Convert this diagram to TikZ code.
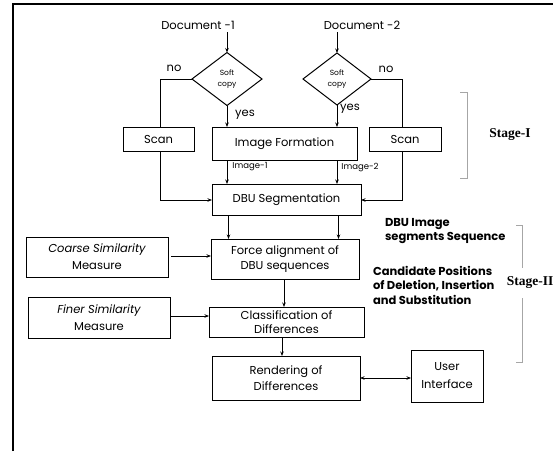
\documentclass[tikz,border=0pt]{standalone}
\usepackage{fontspec}
\setmainfont{Poppins}
\newfontfamily\stagefont{Liberation Serif}
\usetikzlibrary{shapes.geometric,arrows.meta}
\begin{document}
\begin{tikzpicture}[x=1pt,y=-1pt,
  every node/.style={inner sep=0pt, outer sep=0pt, font=\fontsize{11.5}{15}\selectfont},
  box/.style={draw, line width=1pt, align=center},
  dia/.style={draw, diamond, line width=1pt, align=center, font=\fontsize{7.5}{11}\selectfont},
  con/.style={line width=1pt},
  arr/.style={con, -{Stealth[length=4.5pt,width=3.5pt]}},
  darr/.style={con, {Stealth[length=4.5pt,width=3.5pt]}-{Stealth[length=4.5pt,width=3.5pt]}},
  lab/.style={font=\fontsize{11.5}{13}\selectfont},
  smalllab/.style={font=\fontsize{8.5}{9}\selectfont},
  boldlab/.style={font=\fontsize{11.5}{14.5}\selectfont\bfseries, align=left, anchor=north west},
  stage/.style={font=\fontsize{13.5}{15}\selectfont\stagefont\bfseries},
  brk/.style={draw=gray!70, line width=0.5pt}
]
\useasboundingbox (0,0) rectangle (553,451);
% border
\draw[line width=1.2pt] (13,451) -- (13,4) -- (553,4);

% nodes
\node (doc1) at (198,25) {Document -1};
\node (doc2) at (362,25) {Document -2};
\node[dia, minimum width=70pt, minimum height=53pt] (d1) at (227,79) {Soft\\copy};
\node[dia, minimum width=68pt, minimum height=52pt] (d2) at (337,79) {Soft\\copy};
\node[box, minimum width=71pt, minimum height=24pt] (scan1) at (158.5,139) {Scan};
\node[box, minimum width=145pt, minimum height=33pt] (img) at (284.5,143.5) {Image Formation};
\node[box, minimum width=72pt, minimum height=24pt] (scan2) at (405,139) {Scan};
\node[box, minimum width=149pt, minimum height=31pt] (dbu) at (286.5,199.5) {DBU Segmentation};
\node[box, minimum width=148pt, minimum height=40pt] (force) at (285,259) {Force alignment of\\DBU sequences};
\node[box, minimum width=142pt, minimum height=40pt, font=\fontsize{11.5}{17}\selectfont] (coarse) at (97,257) {\itshape Coarse Similarity\\Measure};
\node[box, minimum width=142pt, minimum height=41pt, font=\fontsize{11.5}{17}\selectfont] (finer) at (99,317.5) {\itshape Finer Similarity\\Measure};
\node[box, minimum width=155pt, minimum height=30pt, font=\fontsize{11.5}{14}\selectfont] (class) at (286.5,322) {Classification of\\Differences};
\node[box, minimum width=148pt, minimum height=44pt, font=\fontsize{11.5}{16}\selectfont] (render) at (286,378) {Rendering of\\Differences};
\node[box, minimum width=72pt, minimum height=52pt, font=\fontsize{11.5}{18}\selectfont] (user) at (447,376) {User\\Interface};

% labels
\node[lab] (no1) at (174,68) {no};
\node[lab] (no2) at (386,69) {no};
\node[lab] (yes1) at (245,115) {yes};
\node[lab] (yes2) at (350,109) {yes};
\node[smalllab] (im1) at (250,167) {Image-1};
\node[smalllab] (im2) at (360,168) {Image-2};
\node[boldlab] (t1) at (385,218) {DBU Image\\segments Sequence};
\node[boldlab] (t2) at (373,266) {Candidate Positions\\of Deletion, Insertion\\and Substitution};
\node[stage] (s1) at (510,135) {Stage-I};
\node[stage] (s2) at (530,283) {Stage-II};

% coordinates
\coordinate (c1) at (160,79);
\coordinate (c2) at (402,79);
\coordinate (c3) at (160,200);
\coordinate (c4) at (402,200);

% connectors
\draw[arr] (d1.north |- doc1.south) ++(0,3) -- (d1.north);
\draw[arr] (d2.north |- doc2.south) ++(0,3) -- (d2.north);
\draw[con] (d1.west) -- (c1) -- (c1 |- scan1.north);
\draw[con] (d2.east) -- (c2) -- (c2 |- scan2.north);
\draw[arr] (d1.south) -- (d1.south |- img.north);
\draw[arr] (d2.south) -- (d2.south |- img.north);
\draw[arr] (d1.south |- img.south) -- (d1.south |- dbu.north);
\draw[arr] (d2.south |- img.south) -- (d2.south |- dbu.north);
\draw[arr] (c1 |- scan1.south) -- (c3) -- (c3 -| dbu.west);
\draw[arr] (c2 |- scan2.south) -- (c4) -- (c4 -| dbu.east);
\draw[arr] ([xshift=-58pt]dbu.south) -- ([xshift=-58pt]dbu.south |- force.north);
\draw[arr] ([xshift=52pt]dbu.south) -- ([xshift=52pt]dbu.south |- force.north);
\draw[arr] ([xshift=3pt,yshift=1pt]coarse.east) -- ([yshift=1pt]coarse.east -| force.west);
\draw[arr] ([xshift=-1pt]force.south) -- ([xshift=-1pt]force.south |- class.north);
\draw[arr] ([yshift=1.5pt]finer.east) -- ([yshift=1.5pt]finer.east -| class.west);
\draw[arr] ([xshift=-4.5pt]class.south) -- ([xshift=-4.5pt]class.south |- render.north);
\draw[darr] (render.east) -- (render.east -| user.west);

% brackets
\draw[brk] (460,92) -- (467,92) -- (467,178) -- (460,178);
\draw[brk] (516,225) -- (522,225) -- (522,268);
\draw[brk] (522,298) -- (522,362) -- (516,362);
\end{tikzpicture}
\end{document}
